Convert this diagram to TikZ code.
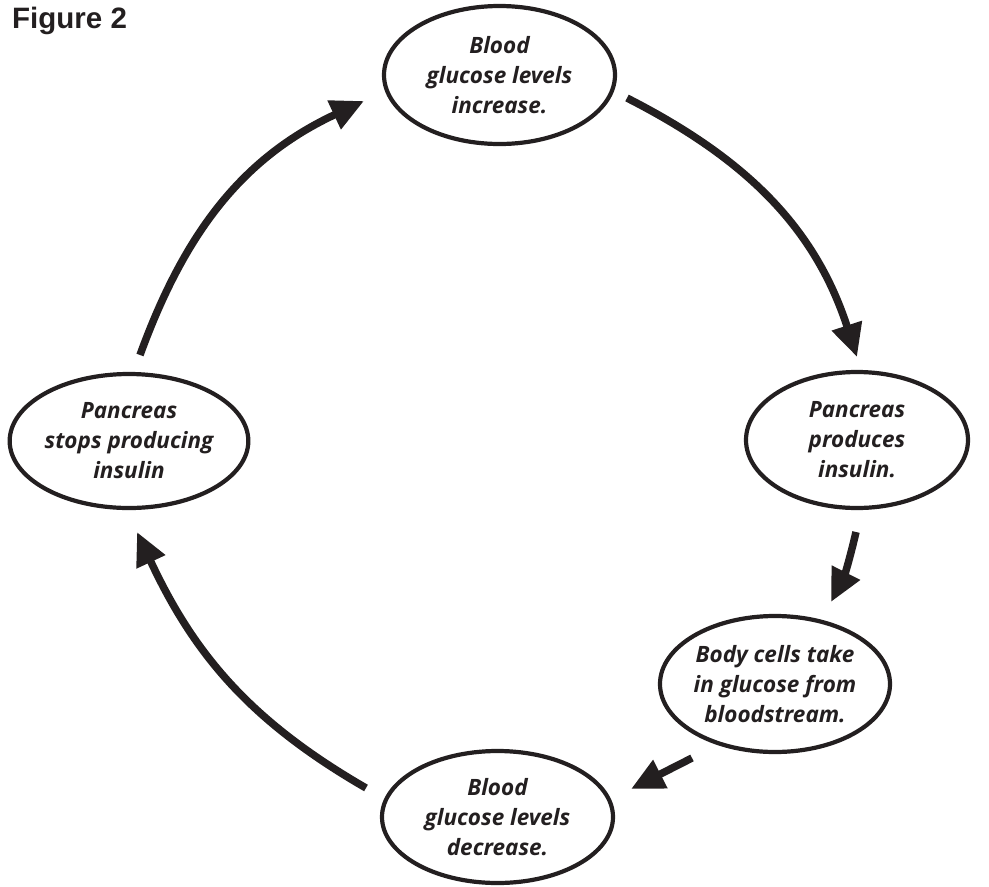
\documentclass[tikz,border=0pt]{standalone}
\usepackage{fontspec}
\setmainfont{Open Sans}
\newfontfamily\figfont{Liberation Sans}
\usetikzlibrary{shapes.geometric,arrows.meta}
\definecolor{ink}{RGB}{35,31,32}
\tikzset{
  stage/.style={ellipse, draw=ink, line width=4.2pt, inner sep=0pt, align=center, text=ink,
    font=\fontsize{22.5}{30}\selectfont\bfseries\itshape},
  flow/.style={draw=ink, line width=7.5pt, -{Triangle[length=33pt,width=30pt]}}
}
\begin{document}
\begin{tikzpicture}[x=1pt,y=1pt]
\useasboundingbox (0,0) rectangle (989,-887);
\node[anchor=base west, inner sep=0pt, text=ink, font=\figfont\bfseries\fontsize{29.5}{30}\selectfont] (fig) at (12,-28) {Figure 2};

\node[stage, minimum width=231pt, minimum height=138pt] (inc) at (499.5,-75) {Blood\\glucose levels\\increase.};
\node[stage, minimum width=222pt, minimum height=136pt] (prod) at (857,-440) {Pancreas\\produces\\insulin.};
\node[stage, minimum width=230pt, minimum height=136pt] (take) at (775,-684) {Body cells take\\in glucose from\\bloodstream.};
\node[stage, minimum width=231pt, minimum height=132pt] (dec) at (497.5,-817) {Blood\\glucose levels\\decrease.};
\node[stage, minimum width=234pt, minimum height=134pt] (stop) at (129,-441) {Pancreas\\stops producing\\insulin};

\coordinate (a1s) at (627,-98);  \coordinate (a1e) at (857,-357);
\coordinate (a2s) at (856,-532); \coordinate (a2e) at (831,-602);
\coordinate (a3s) at (692,-758); \coordinate (a3e) at (631,-789);
\coordinate (a4s) at (366,-788); \coordinate (a4e) at (137,-532);
\coordinate (a5s) at (140,-355); \coordinate (a5e) at (364,-101);

\draw[flow] (a1s) to[out=-27, in=108] (a1e);
\draw[flow] (a2s) to[out=-103, in=63] (a2e);
\draw[flow] (a3s) -- (a3e);
\draw[flow] (a4s) to[out=150, in=-65] (a4e);
\draw[flow] (a5s) to[out=70, in=-155] (a5e);
\end{tikzpicture}
\end{document}
